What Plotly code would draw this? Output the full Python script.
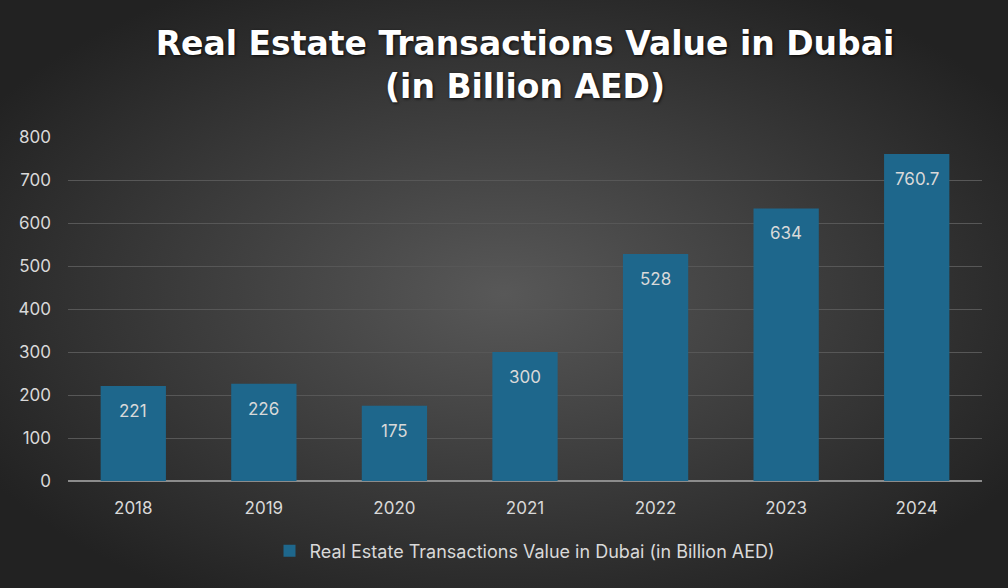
import plotly.graph_objects as go

years = ["2018", "2019", "2020", "2021", "2022", "2023", "2024"]
values = [221, 226, 175, 300, 528, 634, 760.7]
labels = ["221", "226", "175", "300", "528", "634", "760.7"]
series_name = "Real Estate Transactions Value in Dubai (in Billion AED)"

# radial background, like the office chart style
bg_svg = (
    "data:image/svg+xml;utf8,"
    "<svg xmlns='http://www.w3.org/2000/svg' width='1008' height='588' preserveAspectRatio='none'>"
    "<defs><radialGradient id='g' cx='50%' cy='50%' r='60%'>"
    "<stop offset='0%' stop-color='%23585858'/>"
    "<stop offset='100%' stop-color='%23222222'/>"
    "</radialGradient></defs>"
    "<rect width='1008' height='588' fill='url(%23g)'/></svg>"
)

W, H = 1008, 588
ml, mr, mt, mb = 68, 26, 137, 107
pw, ph = W - ml - mr, H - mt - mb

fig = go.Figure()
fig.add_trace(go.Bar(
    x=years, y=values, name=series_name,
    marker=dict(color="#1e678c", line=dict(width=0)),
    showlegend=True,
))

# value labels sit a bit below the top of each bar
# (numeric-looking category strings get read as indices, so pass the index)
for i, (v, lab) in enumerate(zip(values, labels)):
    fig.add_annotation(x=i, y=v, text=lab, showarrow=False, yanchor="top", yshift=-13,
                       font=dict(color="#d9d9d9", size=17, family="Inter"))

fig.update_layout(
    width=W, height=H,
    paper_bgcolor="#333333", plot_bgcolor="rgba(0,0,0,0)",
    margin=dict(l=ml, r=mr, t=mt, b=mb, autoexpand=False),
    bargap=0.5,
    title=dict(
        text="Real Estate Transactions Value in Dubai<br>(in Billion AED)",
        x=0.5, xanchor="center", xref="paper", yref="container",
        y=1 - 55 / H, yanchor="top",
        font=dict(family="DejaVu Sans", size=33, color="#ffffff", weight="bold",
                  shadow="1px 1px 3px rgba(0,0,0,0.8)"),
    ),
    legend=dict(orientation="h", x=0.5, xanchor="center", yref="container",
                y=37 / H, yanchor="middle", bgcolor="rgba(0,0,0,0)",
                font=dict(family="Inter", size=18, color="#d9d9d9")),
    images=[dict(source=bg_svg, xref="paper", yref="paper",
                 x=-ml / pw, y=1 + mt / ph, sizex=W / pw, sizey=H / ph,
                 xanchor="left", yanchor="top", sizing="stretch", layer="below")],
    font=dict(family="Inter", color="#d9d9d9"),
)

fig.update_xaxes(type="category", showgrid=False, showline=False, ticks="",
                 ticklabelstandoff=15, tickfont=dict(size=17, color="#d9d9d9"))
fig.update_yaxes(range=[0, 800], dtick=100, gridcolor="#575757", gridwidth=1,
                 zeroline=True, zerolinecolor="#8c8c8c", zerolinewidth=2,
                 ticks="", ticklabelstandoff=16,
                 tickfont=dict(size=17, color="#d9d9d9"))

fig.write_html("out.html", config={"displayModeBar": False},
               post_script="document.body.style.margin='0';")
